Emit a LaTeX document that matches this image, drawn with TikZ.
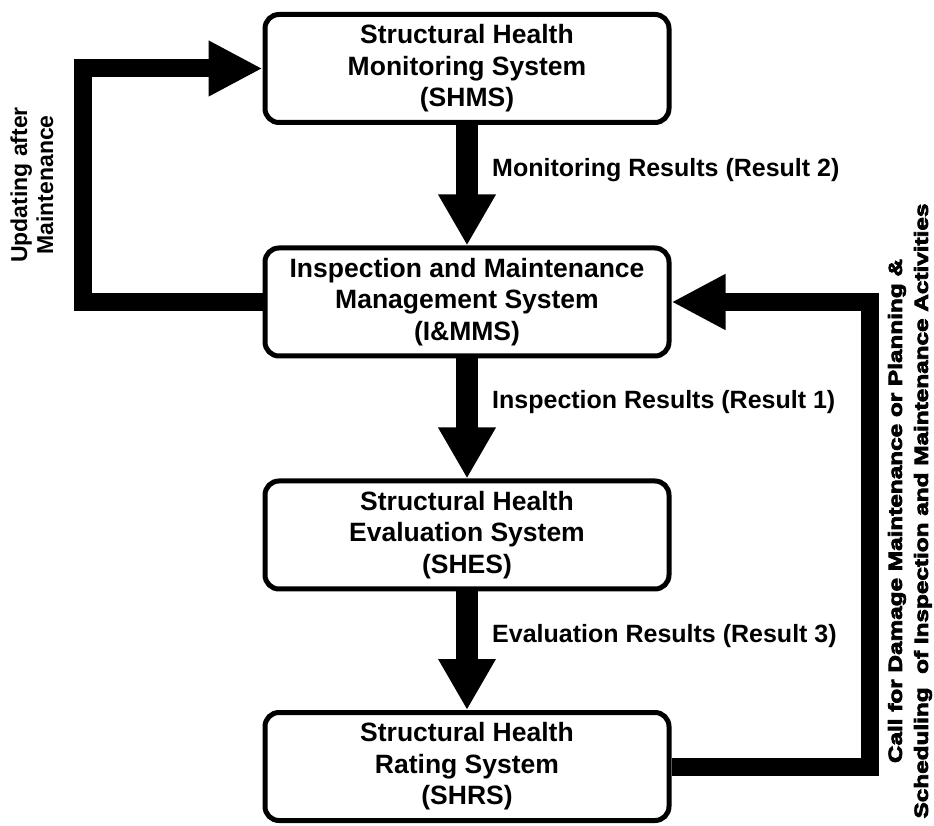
\documentclass[tikz,border=0pt]{standalone}
\usepackage{fontspec}
\setmainfont{Liberation Sans}
\newfontfamily\heavyfont{Liberation Sans Bold}[FakeBold=4,FakeStretch=1.28]
\usetikzlibrary{arrows.meta,positioning}

\tikzset{
  sysbox/.style={draw, line width=5pt, rounded corners=14pt, minimum width=404pt,
    minimum height=108pt, align=center, inner sep=0pt,
    font=\fontsize{26.5}{31.5}\selectfont\bfseries},
  flow/.style={line width=22pt, -{Triangle[length=51pt,width=54pt]}},
  feedback/.style={line width=18pt, line join=miter, -{Triangle[length=54pt,width=52pt]}},
  result/.style={anchor=west, inner sep=0pt, font=\fontsize{25}{30}\selectfont\bfseries},
}

\begin{document}
\begin{tikzpicture}[x=1pt,y=1pt]
    \useasboundingbox (0,0) rectangle (934,825);

    % Subsystems
    \node[sysbox] (shms) at (467,756.5) {Structural Health\\Monitoring System\\(SHMS)};
    \node[sysbox] (imms) at (467,523) {Inspection and Maintenance\\Management System\\(I\&MMS)};
    \node[sysbox] (shes) at (467,290) {Structural Health\\Evaluation System\\(SHES)};
    \node[sysbox] (shrs) at (467,58.5) {Structural Health\\Rating System\\(SHRS)};

    % Results passed down
    \draw[flow] (shms) -- (imms);
    \node[result] (res2) at (492,655) {Monitoring Results (Result 2)};
    \draw[flow] (imms) -- (shes);
    \node[result] (res1) at (492,423) {Inspection Results (Result 1)};
    \draw[flow] (shes) -- (shrs);
    \node[result] (res3) at (492,189) {Evaluation Results (Result 3)};

    % Feedback loops
    \draw[feedback] (imms.west) -- ++(-180,0) |- (shms.west);
    \node[rotate=90, align=center, font=\fontsize{23}{26}\selectfont\bfseries] (upd) at (32,640)
        {Updating after\\Maintenance};

    \draw[feedback] (shrs.east) -- ++(198,0) |- (imms.east);
    \node[rotate=90, align=center, font=\heavyfont\fontsize{19}{26}\selectfont] (call) at (910,314)
        {Call for Damage Maintenance or Planning \&\\Scheduling\ \ of Inspection and Maintenance Activities};
\end{tikzpicture}
\end{document}
